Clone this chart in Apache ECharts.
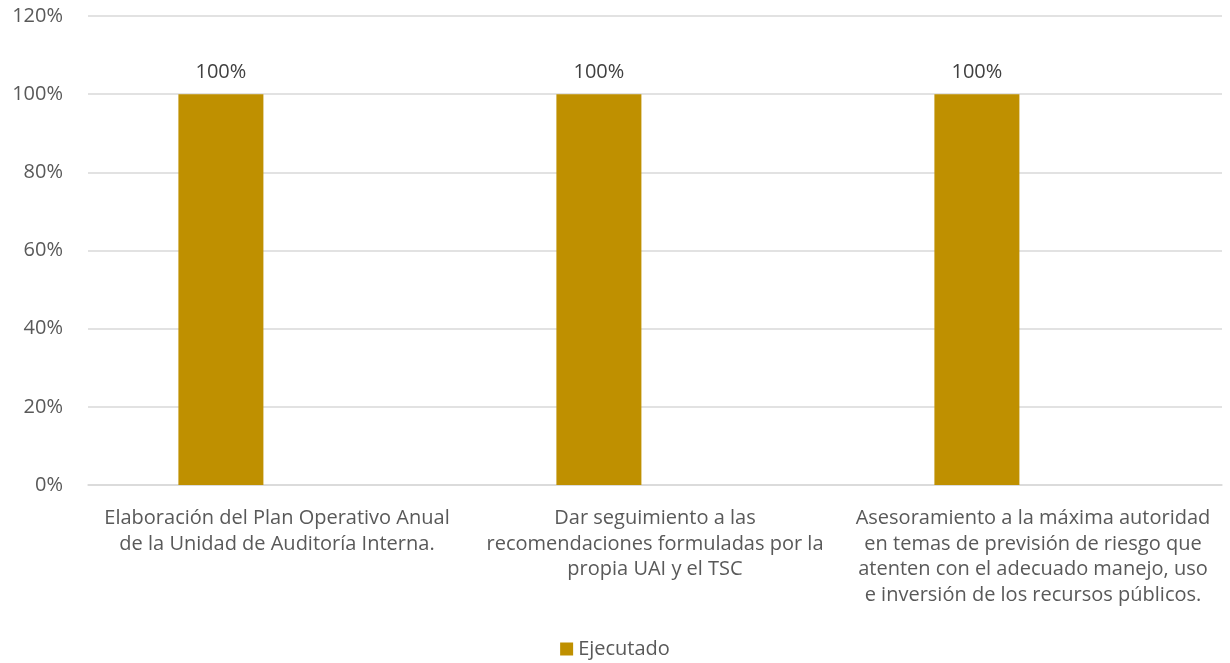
<!DOCTYPE html>
<html>
<head>
<meta charset="utf-8">
<script src="https://cdn.jsdelivr.net/npm/echarts@6/dist/echarts.min.js"></script>
<style>html,body{margin:0;padding:0;background:#fff}#c{width:1230px;height:663px}</style>
</head>
<body>
<div id="c"></div>
<script>
const categories = [
  "Elaboración del Plan Operativo Anual\nde la Unidad de Auditoría Interna.",
  "Dar seguimiento a las\nrecomendaciones formuladas por la\npropia UAI y el TSC",
  "Asesoramiento a la máxima autoridad\nen temas de previsión de riesgo que\natenten con el adecuado manejo, uso\ne inversión de los recursos públicos."
];
const ejecutado = [100, 100, 100];
const yTicks = [0, 20, 40, 60, 80, 100, 120];

const font = "'Open Sans', sans-serif";
const chart = echarts.init(document.getElementById('c'));
chart.setOption({
  animation: false,
  textStyle: { fontFamily: font },
  grid: { left: 88, right: 8, top: 16, bottom: 178 },
  legend: {
    data: ['Ejecutado'],
    bottom: -1,
    left: 'center',
    icon: 'rect',
    itemWidth: 13,
    itemHeight: 13,
    itemGap: 8,
    textStyle: { color: '#595959', fontSize: 20, fontFamily: font }
  },
  xAxis: {
    type: 'category',
    data: categories,
    axisLine: { lineStyle: { color: '#D9D9D9', width: 1.5 } },
    axisTick: { show: false },
    axisLabel: {
      interval: 0,
      color: '#595959',
      fontSize: 20,
      lineHeight: 25.5,
      margin: 21,
      align: 'center',
      fontFamily: font
    }
  },
  yAxis: {
    type: 'value',
    min: yTicks[0],
    max: yTicks[yTicks.length - 1],
    interval: 20,
    axisLine: { show: false },
    axisTick: { show: false },
    splitLine: { lineStyle: { color: '#D9D9D9', width: 1.5 } },
    axisLabel: {
      color: '#595959',
      fontSize: 20,
      margin: 25,
      formatter: v => v + '%',
      fontFamily: font
    }
  },
  series: [
    {
      name: 'Ejecutado',
      type: 'bar',
      data: ejecutado,
      barWidth: 85,
      barGap: '32%',
      itemStyle: { color: '#BF9000' },
      label: {
        show: true,
        position: 'top',
        distance: 12,
        color: '#404040',
        fontSize: 20,
        formatter: p => p.value + '%',
        fontFamily: font
      }
    },
    {
      name: 'Oculto',
      type: 'bar',
      data: [null, null, null],
      barWidth: 85,
      itemStyle: { color: 'transparent' }
    }
  ]
});
</script>
</body>
</html>
